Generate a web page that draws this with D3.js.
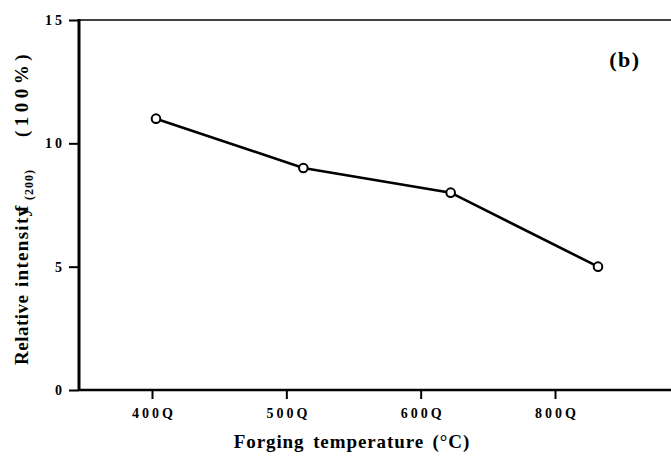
<!DOCTYPE html>
<html>
<head>
<meta charset="utf-8">
<script src="https://cdn.jsdelivr.net/npm/d3@7"></script>
<style>
  html, body { margin: 0; padding: 0; background: #fff; }
  svg { display: block; }
  text { font-family: "Liberation Serif", "Times New Roman", serif; font-weight: bold; fill: #000; }
</style>
</head>
<body>
<svg id="chart" width="671" height="462"></svg>
<script>
// Forging temperature categories and relative (200) intensity
const categories = ["400Q", "500Q", "600Q", "800Q"];
const intensity = [11, 9, 8, 5];
const yTicks = [0, 5, 10, 15];

const plot = { left: 79, top: 20, bottom: 390, right: 671 };

const svg = d3.select("#chart");

const y = d3.scaleLinear().domain([0, 15]).range([plot.bottom, plot.top]);
// tick positions along the temperature axis
const xAxisScale = d3.scalePoint().domain(categories).range([152, 555]);
// measured points sit on a slightly wider spacing than the tick marks
const xData = d3.scalePoint().domain(categories).range([156, 598]);

// frame: top edge and axes lines
svg.append("line").attr("x1", plot.left).attr("x2", plot.right).attr("y1", plot.top).attr("y2", plot.top)
  .attr("stroke", "#000").attr("stroke-width", 1.6);
svg.append("line").attr("x1", plot.left).attr("x2", plot.left).attr("y1", plot.top - 1).attr("y2", plot.bottom + 1)
  .attr("stroke", "#000").attr("stroke-width", 3);
svg.append("line").attr("x1", plot.left).attr("x2", plot.right).attr("y1", plot.bottom).attr("y2", plot.bottom)
  .attr("stroke", "#000").attr("stroke-width", 2.4);

// y axis
const yAxis = svg.append("g").attr("transform", `translate(${plot.left},0)`)
  .call(d3.axisLeft(y).tickValues(yTicks).tickSize(10).tickPadding(6));
yAxis.select(".domain").remove();
yAxis.selectAll(".tick line").attr("stroke", "#000").attr("stroke-width", 2);
yAxis.selectAll(".tick text")
  .style("font-size", "14px").style("letter-spacing", "3px")
  .attr("dx", 2);

// x axis
const xAxis = svg.append("g").attr("transform", `translate(0,${plot.bottom})`)
  .call(d3.axisBottom(xAxisScale).tickSize(9).tickPadding(9));
xAxis.select(".domain").remove();
xAxis.selectAll(".tick line").attr("stroke", "#000").attr("stroke-width", 2);
xAxis.selectAll(".tick text")
  .style("font-size", "14px").style("letter-spacing", "3px")
  .attr("dx", 1.5);

// data line
const line = d3.line()
  .x((d, i) => xData(categories[i]))
  .y(d => y(d));
svg.append("path").datum(intensity)
  .attr("d", line)
  .attr("fill", "none").attr("stroke", "#000").attr("stroke-width", 2.6);

svg.selectAll("circle.pt").data(intensity).enter().append("circle")
  .attr("class", "pt")
  .attr("cx", (d, i) => xData(categories[i]))
  .attr("cy", d => y(d))
  .attr("r", 4.3)
  .attr("fill", "#fff").attr("stroke", "#000").attr("stroke-width", 2);

// panel label
svg.append("text").attr("x", 625).attr("y", 67).attr("text-anchor", "middle")
  .style("font-size", "22px").style("letter-spacing", "1.5px").text("(b)");

// x title
svg.append("text").attr("x", 352).attr("y", 448).attr("text-anchor", "middle")
  .style("font-size", "19px").style("letter-spacing", "0.9px").style("word-spacing", "3px")
  .text("Forging temperature (°C)");

// y title (rotated; x runs upward along the axis)
const yt = svg.append("text")
  .attr("transform", "translate(28,0) rotate(-90)")
  .attr("text-anchor", "start")
  .style("font-size", "19px");
yt.append("tspan").attr("x", -365).style("letter-spacing", "0.5px").text("Relative");
yt.append("tspan").attr("x", -287).style("letter-spacing", "1.3px").text("intensity");
yt.append("tspan").attr("x", -212).text("f");
yt.append("tspan").attr("x", -200).attr("dy", 5).style("font-size", "12px").style("letter-spacing", "1px")
  .text("(200)");
yt.append("tspan").attr("x", -137).attr("dy", -5).style("letter-spacing", "4.5px")
  .text("(100%)");
</script>
</body>
</html>
